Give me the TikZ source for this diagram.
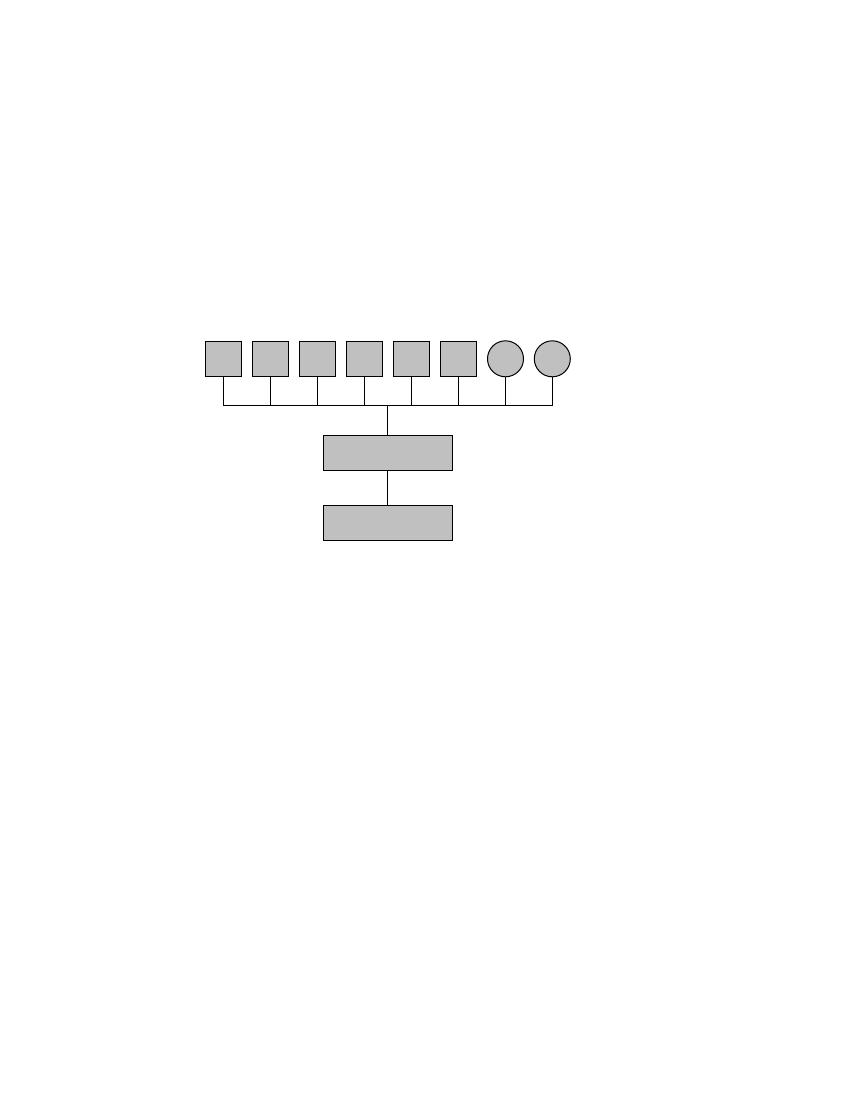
\documentclass[tikz,border=0pt]{standalone}
\usepackage{tikz}

\tikzset{every picture/.style={line width=0.75pt}}
\tikzset{
  unitbox/.style={draw, fill={rgb, 255:red, 192; green, 192; blue, 192 }, inner sep=0pt, outer sep=0pt, minimum width=27pt, minimum height=26.25pt},
  unitcirc/.style={draw, circle, fill={rgb, 255:red, 192; green, 192; blue, 192 }, inner sep=0pt, outer sep=0pt, minimum size=27pt},
  widebox/.style={draw, fill={rgb, 255:red, 192; green, 192; blue, 192 }, inner sep=0pt, outer sep=0pt, minimum width=97pt, minimum height=26.25pt}
}

\begin{document}
\begin{tikzpicture}[x=0.75pt,y=0.75pt,yscale=-1,xscale=1]
%set diagram to the full page
\path (0,0) rectangle (850,1100);

%Shape: Rectangle
\node [unitbox] (sq1) at (223,358.8) {};
\node [unitbox] (sq2) at (270,358.8) {};
\node [unitbox] (sq3) at (317,358.8) {};
\node [unitbox] (sq4) at (364,358.8) {};
\node [unitbox] (sq5) at (411,358.8) {};
\node [unitbox] (sq6) at (458.5,358.8) {};
%Shape: Circle
\node [unitcirc] (ci1) at (505.5,358.8) {};
\node [unitcirc] (ci2) at (552.3,358.8) {};
%Shape: Rectangle
\node [widebox] (upper) at (387.7,452.7) {};
\node [widebox] (lower) at (387.7,522.8) {};

%Straight Lines
\coordinate (bus) at (387.7,405);
\draw (sq1.south) -- (sq1.south |- bus) -- (ci2.south |- bus) -- (ci2.south);
\draw (sq2.south) -- (sq2.south |- bus);
\draw (sq3.south) -- (sq3.south |- bus);
\draw (sq4.south) -- (sq4.south |- bus);
\draw (sq5.south) -- (sq5.south |- bus);
\draw (sq6.south) -- (sq6.south |- bus);
\draw (ci1.south) -- (ci1.south |- bus);
\draw (upper.north |- bus) -- (upper.north);
\draw (upper.south) -- (lower.north);

\end{tikzpicture}
\end{document}
